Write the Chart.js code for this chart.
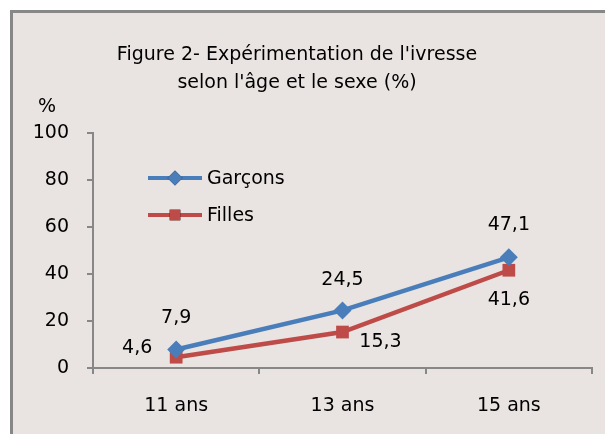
<!DOCTYPE html>
<html>
<head>
<meta charset="utf-8">
<script src="https://cdn.jsdelivr.net/npm/chart.js@4/dist/chart.umd.min.js"></script>
<style>
  html, body { margin: 0; padding: 0; background: #ffffff; }
  #frame { position: absolute; left: 10px; top: 10px; width: 620px; height: 450px;
           background: #e9e4e1; border: 3px solid #878787; box-sizing: border-box; }
  #wrap { position: absolute; left: 0; top: 0; width: 605px; height: 434px; }
</style>
</head>
<body>
<div id="frame"></div>
<div id="wrap"><canvas id="c" width="605" height="434"></canvas></div>
<script>
const categories = ['11 ans', '13 ans', '15 ans'];
const garcons = [7.9, 24.5, 47.1];
const filles = [4.6, 15.3, 41.6];
const seriesNames = ['Garçons', 'Filles'];
const yTicks = [0, 20, 40, 60, 80, 100];
const titleLines = ["Figure 2- Expérimentation de l'ivresse", "selon l'âge et le sexe (%)"];
const yUnit = '%';

const FONT = '"DejaVu Sans"';
const FSIZE = 19;
const BLUE = '#4a7ebb';
const RED = '#be4b48';
const AXIS = '#878787';

// label placement per dataset: [dx, dy] relative to the point
const labelPlacement = [
  [[0, -31], [0, -30], [0, -32]],
  [[-39, -9], [38, 10], [0, 30]]
];

const fmt = v => v.toFixed(1).replace('.', ',');

const decorPlugin = {
  id: 'decor',
  afterDraw(chart) {
    const ctx = chart.ctx;
    const ca = chart.chartArea;
    ctx.save();
    ctx.fillStyle = '#000';
    ctx.font = `${FSIZE}px ${FONT}`;
    ctx.textAlign = 'center';
    ctx.textBaseline = 'middle';
    // title
    ctx.fillText(titleLines[0], 297, 55);
    ctx.fillText(titleLines[1], 297, 83);
    // unit
    ctx.fillText(yUnit, 47, 107);
    // data labels
    chart.data.datasets.forEach((ds, di) => {
      const meta = chart.getDatasetMeta(di);
      meta.data.forEach((pt, i) => {
        const off = labelPlacement[di][i];
        ctx.fillText(fmt(ds.data[i]), pt.x + off[0], pt.y + off[1]);
      });
    });
    // legend
    const lx0 = ca.left + 55, lx1 = ca.left + 109;
    const rows = [ca.top + 45, ca.top + 82];
    chart.data.datasets.forEach((ds, di) => {
      const y = rows[di];
      ctx.strokeStyle = ds.borderColor;
      ctx.lineWidth = 4;
      ctx.beginPath(); ctx.moveTo(lx0, y); ctx.lineTo(lx1, y); ctx.stroke();
      Chart.helpers.drawPoint(ctx, { pointStyle: ds.pointStyle, radius: 7.5, borderWidth: 0 }, (lx0 + lx1) / 2, y);
      ctx.fillStyle = ds.pointBackgroundColor;
      ctx.fill();
      ctx.fillStyle = '#000';
      ctx.textAlign = 'left';
      ctx.fillText(ds.label, lx1 + 5, y + 1);
      ctx.textAlign = 'center';
    });
    ctx.restore();
  }
};

new Chart(document.getElementById('c'), {
  type: 'line',
  data: {
    labels: categories,
    datasets: [
      { label: seriesNames[0], data: garcons, borderColor: BLUE, backgroundColor: BLUE,
        pointBackgroundColor: BLUE, pointBorderColor: BLUE, pointStyle: 'rectRot',
        pointRadius: 9, pointBorderWidth: 0, borderWidth: 4.5, tension: 0 },
      { label: seriesNames[1], data: filles, borderColor: RED, backgroundColor: RED,
        pointBackgroundColor: RED, pointBorderColor: RED, pointStyle: 'rect',
        pointRadius: 9, pointBorderWidth: 0, borderWidth: 4.5, tension: 0 }
    ]
  },
  options: {
    responsive: false,
    animation: false,
    layout: { padding: { left: 0, right: 13, top: 133, bottom: 0 } },
    plugins: { legend: { display: false }, title: { display: false }, tooltip: { enabled: false } },
    scales: {
      x: {
        offset: true,
        grid: { display: true, offset: true, drawOnChartArea: false, drawTicks: true, tickLength: 6, color: AXIS, lineWidth: 2 },
        border: { display: true, color: AXIS, width: 2 },
        ticks: { color: '#000', font: { family: 'DejaVu Sans', size: FSIZE }, padding: 21 },
        afterFit: s => { s.height = 66; }
      },
      y: {
        min: 0, max: 100,
        afterBuildTicks: s => { s.ticks = yTicks.map(v => ({ value: v })); },
        grid: { display: true, drawOnChartArea: false, drawTicks: true, tickLength: 6, color: AXIS, lineWidth: 2 },
        border: { display: true, color: AXIS, width: 2 },
        ticks: { color: '#000', font: { family: 'DejaVu Sans', size: FSIZE }, padding: 18 },
        afterFit: s => { s.width = 93; }
      }
    }
  },
  plugins: [decorPlugin]
});
</script>
</body>
</html>
